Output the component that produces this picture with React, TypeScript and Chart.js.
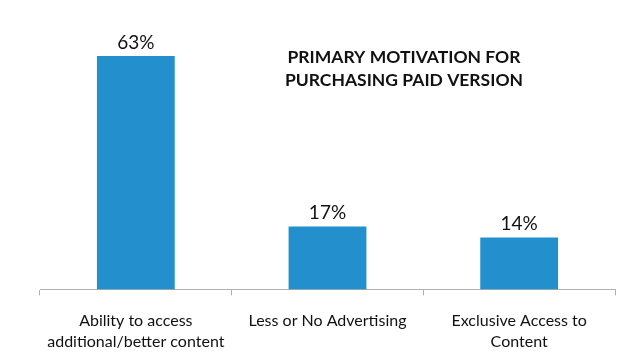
import React, { useEffect, useRef } from "react";
import { Chart, registerables } from "chart.js";

Chart.register(...registerables);

const categories: string[][] = [
  ["Ability to access", "additional/better content"],
  ["Less or No Advertising"],
  ["Exclusive Access to", "Content"],
];
const values: number[] = [63, 17, 14];
const titleLines: string[] = ["PRIMARY MOTIVATION FOR", "PURCHASING PAID VERSION"];
const FONT = "Lato, 'Open Sans', sans-serif";

const valueLabels = {
  id: "valueLabels",
  afterDatasetsDraw(chart: any) {
    const ctx = chart.ctx;
    const meta = chart.getDatasetMeta(0);
    ctx.save();
    ctx.fillStyle = "#111";
    ctx.font = `19px ${FONT}`;
    ctx.textAlign = "center";
    ctx.textBaseline = "bottom";
    meta.data.forEach((el: any, i: number) => {
      ctx.fillText(values[i] + "%", el.x, el.y - 4);
    });
    ctx.restore();
  },
};

const titlePlugin = {
  id: "innerTitle",
  afterDraw(chart: any) {
    const ctx = chart.ctx;
    const area = chart.chartArea;
    ctx.save();
    ctx.fillStyle = "#111";
    ctx.font = `bold 17.5px ${FONT}`;
    ctx.textAlign = "center";
    ctx.textBaseline = "middle";
    const cx = area.left + (area.right - area.left) * 0.633;
    titleLines.forEach((t, i) => ctx.fillText(t, cx, area.top + 27 + i * 23));
    ctx.restore();
  },
};

export default function App() {
  const ref = useRef<HTMLCanvasElement | null>(null);
  useEffect(() => {
    if (!ref.current) return;
    const chart = new Chart(ref.current, {
      type: "bar",
      data: {
        labels: categories,
        datasets: [
          {
            data: values,
            backgroundColor: "#2390CD",
            categoryPercentage: 1,
            barPercentage: 0.406,
          },
        ],
      },
      options: {
        animation: false,
        responsive: false,
        maintainAspectRatio: false,
        layout: { padding: { left: 40, right: 25, top: 30, bottom: 0 } },
        plugins: { legend: { display: false }, tooltip: { enabled: false }, title: { display: false } },
        scales: {
          x: {
            grid: {
              offset: true,
              drawOnChartArea: false,
              drawTicks: true,
              tickLength: 6,
              color: "#b0b0b0",
            },
            border: { display: true, color: "#b0b0b0" },
            ticks: {
              color: "#111",
              font: { family: FONT, size: 16, lineHeight: 1.3 },
              padding: 15,
              maxRotation: 0,
              autoSkip: false,
            },
          },
          y: { display: false, min: 0, max: 70 },
        },
      },
      plugins: [valueLabels, titlePlugin],
    });
    return () => chart.destroy();
  }, []);
  return (
    <div style={{ position: "fixed", left: 0, top: 0, width: 640, height: 356, background: "#fff", overflow: "hidden" }}>
      <canvas ref={ref} width={640} height={367} />
    </div>
  );
}
